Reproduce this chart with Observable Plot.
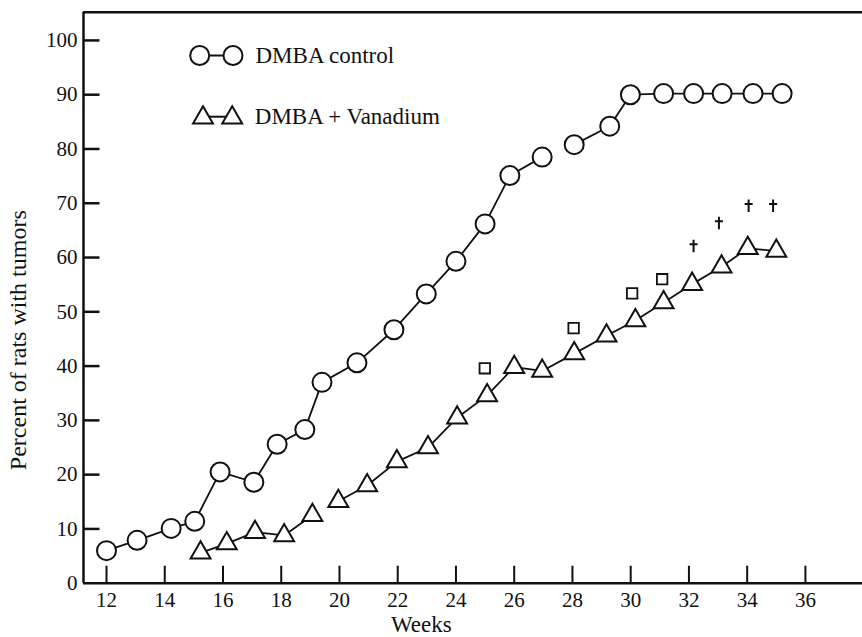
<!DOCTYPE html>
<html>
<head>
<meta charset="utf-8">
<script src="https://cdn.jsdelivr.net/npm/d3@7"></script>
<script src="https://cdn.jsdelivr.net/npm/@observablehq/plot@0.6"></script>
<style>
  body { margin: 0; background: #fff; }
  svg { display: block; }
  svg text { font-family: 'Liberation Serif', 'DejaVu Serif', serif !important; }
</style>
</head>
<body>
<div id="chart"></div>
<script>
// ---- data ----
const xTicks = [12, 14, 16, 18, 20, 22, 24, 26, 28, 30, 32, 34, 36];
const yTicks = [0, 10, 20, 30, 40, 50, 60, 70, 80, 90, 100];

const controlWeeks = [12.0, 13.05, 14.22, 15.03, 15.9, 17.06, 17.86, 18.81, 19.4, 20.6, 21.87, 22.98, 24.0, 25.0, 25.85, 26.96, 28.06, 29.28, 29.99, 31.13, 32.16, 33.14, 34.2, 35.2];
const controlPct   = [6.0, 7.9, 10.1, 11.4, 20.5, 18.6, 25.6, 28.3, 37.0, 40.6, 46.7, 53.3, 59.3, 66.2, 75.1, 78.5, 80.8, 84.2, 90.0, 90.2, 90.2, 90.2, 90.2, 90.2];

const vanadiumWeeks = [15.23, 16.13, 17.1, 18.1, 19.07, 19.96, 20.95, 21.97, 23.04, 24.04, 25.07, 26.0, 26.96, 28.06, 29.17, 30.16, 31.13, 32.11, 33.12, 34.02, 35.0];
const vanadiumPct   = [5.6, 7.3, 9.4, 8.8, 12.5, 15.1, 18.0, 22.4, 25.0, 30.5, 34.6, 39.8, 39.1, 42.3, 45.6, 48.4, 51.7, 55.1, 58.3, 61.7, 61.2];

const squareWeeks = [24.99, 28.04, 30.05, 31.08];
const squarePct   = [39.6, 47.0, 53.4, 56.0];

const daggerWeeks = [32.16, 33.03, 34.05, 34.89];
const daggerPct   = [62.1, 66.3, 69.5, 69.5];

const controlBreakAfter = 27.5;   // no connecting line between weeks 27 and 28
const vanadiumBreakAfter = 19.5;  // no connecting line between weeks 19 and 20

const seriesLabels = ["DMBA control", "DMBA + Vanadium"];
const xLabel = "Weeks";
const yLabel = "Percent of rats with tumors";

// ---- tables ----
const control = controlWeeks.map((w, i) => ({week: w, pct: controlPct[i], seg: w > controlBreakAfter ? 1 : 0}));
const vanadium = vanadiumWeeks.map((w, i) => ({week: w, pct: vanadiumPct[i], seg: w > vanadiumBreakAfter ? 1 : 0}));
const squares = squareWeeks.map((w, i) => ({week: w, pct: squarePct[i]}));
const daggers = daggerWeeks.map((w, i) => ({week: w, pct: daggerPct[i]}));

const xDomain = [11.21, 37.96];
const yDomain = [0, 105.2];

// ---- custom symbols ----
const tickUp = {draw(c) { c.moveTo(0, 0); c.lineTo(0, -17.5); }};
const tickRight = {draw(c) { c.moveTo(0, 0); c.lineTo(16, 0); }};
const dagger = {draw(c) { c.moveTo(0, -6.5); c.lineTo(0, 6); c.moveTo(-4, -2); c.lineTo(4, -2); }};
const hline = {draw(c) { c.moveTo(-16.5, 0); c.lineTo(16.5, 0); }};
const hlineT = {draw(c) { c.moveTo(-14.6, 0); c.lineTo(14.6, 0); }};

const ink = "#111";
const serif = "'Liberation Serif', 'DejaVu Serif', serif";

const chart = Plot.plot({
  width: 862,
  height: 637,
  marginLeft: 83,
  marginRight: 0,
  marginTop: 11.7,
  marginBottom: 54.3,
  style: {fontFamily: serif, fontSize: "21px", color: ink, background: "white"},
  x: {domain: xDomain, ticks: xTicks, tickSize: 0, tickPadding: 9, label: null},
  y: {domain: yDomain, ticks: yTicks, tickSize: 0, tickPadding: 6, label: null},
  marks: [
    // frame: top, bottom (x axis), left (y axis)
    Plot.ruleY([yDomain[1]], {stroke: ink, strokeWidth: 2.5}),
    Plot.ruleY([yDomain[0]], {stroke: ink, strokeWidth: 2.5}),
    Plot.ruleX([xDomain[0]], {stroke: ink, strokeWidth: 2.5}),
    // inward tick marks
    Plot.dot(xTicks, {x: d => d, frameAnchor: "bottom", symbol: tickUp, r: 1, fill: "none", stroke: ink, strokeWidth: 2}),
    Plot.dot(yTicks.filter(d => d > 0), {y: d => d, frameAnchor: "left", symbol: tickRight, r: 1, fill: "none", stroke: ink, strokeWidth: 2.5}),
    // series lines
    Plot.line(control, {x: "week", y: "pct", z: "seg", stroke: ink, strokeWidth: 1.8}),
    Plot.line(vanadium, {x: "week", y: "pct", z: "seg", stroke: ink, strokeWidth: 1.8}),
    // markers
    Plot.dot(control, {x: "week", y: "pct", r: 9.5, fill: "white", stroke: ink, strokeWidth: 2}),
    Plot.dot(vanadium, {x: "week", y: "pct", symbol: "triangle", r: 7.4, fill: "white", stroke: ink, strokeWidth: 2}),
    Plot.dot(squares, {x: "week", y: "pct", symbol: "square", r: 5.9, fill: "white", stroke: ink, strokeWidth: 1.8}),
    Plot.dot(daggers, {x: "week", y: "pct", symbol: dagger, r: 1, fill: "none", stroke: ink, strokeWidth: 2}),
    // legend
    Plot.dot([seriesLabels[0]], {frameAnchor: "top-left", dx: 132.85, dy: 43.3, symbol: hline, r: 1, fill: "none", stroke: ink, strokeWidth: 2}),
    Plot.dot([seriesLabels[0]], {frameAnchor: "top-left", dx: 116.2, dy: 43.3, r: 9.5, fill: "white", stroke: ink, strokeWidth: 2}),
    Plot.dot([seriesLabels[0]], {frameAnchor: "top-left", dx: 149.5, dy: 43.3, r: 9.5, fill: "white", stroke: ink, strokeWidth: 2}),
    Plot.text([seriesLabels[0]], {text: d => d, frameAnchor: "top-left", dx: 172, dy: 51, textAnchor: "start", lineAnchor: "bottom", fontSize: 23, fontFamily: serif, fill: ink}),
    Plot.dot([seriesLabels[1]], {frameAnchor: "top-left", dx: 134.1, dy: 104.5, symbol: hlineT, r: 1, fill: "none", stroke: ink, strokeWidth: 2}),
    Plot.dot([seriesLabels[1]], {frameAnchor: "top-left", dx: 119.5, dy: 105.5, symbol: "triangle", r: 7.4, fill: "white", stroke: ink, strokeWidth: 2}),
    Plot.dot([seriesLabels[1]], {frameAnchor: "top-left", dx: 148.7, dy: 105.5, symbol: "triangle", r: 7.4, fill: "white", stroke: ink, strokeWidth: 2}),
    Plot.text([seriesLabels[1]], {text: d => d, frameAnchor: "top-left", dx: 171.3, dy: 111.6, textAnchor: "start", lineAnchor: "bottom", fontSize: 23, fontFamily: serif, fill: ink}),
    // axis titles
    Plot.text([xLabel], {text: d => d, frameAnchor: "bottom", dx: -51.7, dy: 49, textAnchor: "middle", lineAnchor: "bottom", fontSize: 23, fontFamily: serif, fill: ink}),
    Plot.text([yLabel], {text: d => d, frameAnchor: "left", dx: -58, dy: 42.5, rotate: -90, textAnchor: "middle", lineAnchor: "bottom", fontSize: 24, fontFamily: serif, fill: ink})
  ]
});

document.getElementById("chart").appendChild(chart);
</script>
</body>
</html>
